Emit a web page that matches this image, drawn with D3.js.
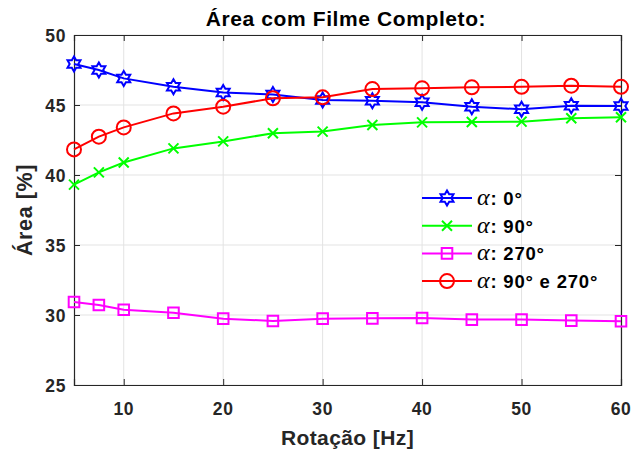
<!DOCTYPE html>
<html>
<head>
<meta charset="utf-8">
<script src="https://cdn.jsdelivr.net/npm/d3@7"></script>
<style>
	body { margin: 0; background: #fff; }
	text { font-family: Arial, "Liberation Sans", sans-serif; font-weight: bold; }
</style>
</head>
<body>
<div id="chart"></div>
<script>

//data
const rotacao = [5, 7.5, 10, 15, 20, 25, 30, 35, 40, 45, 50, 55, 60];
const alpha0 = [47.93, 47.5, 46.9, 46.3, 45.9, 45.75, 45.36, 45.31, 45.19, 44.88, 44.69, 44.95, 44.93];
const alpha90 = [39.31, 40.19, 40.89, 41.9, 42.4, 42.98, 43.1, 43.57, 43.76, 43.79, 43.81, 44.05, 44.12];
const alpha270 = [30.93, 30.71, 30.38, 30.16, 29.74, 29.57, 29.74, 29.76, 29.79, 29.67, 29.67, 29.6, 29.55];
const alpha90e270 = [41.83, 42.74, 43.4, 44.4, 44.88, 45.48, 45.55, 46.14, 46.19, 46.26, 46.3, 46.38, 46.3];
const legendLabels = [": 0°", ": 90°", ": 270°", ": 90° e 270°"];
const xTicks = [10, 20, 30, 40, 50, 60];
const yTicks = [25, 30, 35, 40, 45, 50];


function graph(){

	const width = 632;
	const height = 453;
	const margin = {left: 74, right: 11, top: 35, bottom: 68};

	let svg = d3.select("#chart")
		.append("svg")
		.attr("width", width)
		.attr("height", height);

	let x = d3.scaleLinear().domain([5, 60]).range([margin.left, width - margin.right]);
	let y = d3.scaleLinear().domain([25, 50]).range([height - margin.bottom, margin.top]);

	//grid
	svg.append("g").selectAll("line.gx")
		.data(xTicks)
		.enter().append("line")
		.attr("x1", (d)=>x(d)).attr("x2", (d)=>x(d))
		.attr("y1", y(25)).attr("y2", y(50))
		.attr("stroke", "#e3e3e3").attr("stroke-width", 1);

	svg.append("g").selectAll("line.gy")
		.data(yTicks)
		.enter().append("line")
		.attr("x1", x(5)).attr("x2", x(60))
		.attr("y1", (d)=>y(d)).attr("y2", (d)=>y(d))
		.attr("stroke", "#e3e3e3").attr("stroke-width", 1);

	//axes (box with inward ticks)
	const axisColor = "#262626";
	let xAxisB = d3.axisBottom(x).tickValues(xTicks).tickSize(-6).tickFormat("");
	let xAxisT = d3.axisTop(x).tickValues(xTicks).tickSize(-6).tickFormat("");
	let yAxisL = d3.axisLeft(y).tickValues(yTicks).tickSize(-6).tickFormat("");
	let yAxisR = d3.axisRight(y).tickValues(yTicks).tickSize(-6).tickFormat("");

	[[xAxisB, "translate(0," + y(25) + ")"], [xAxisT, "translate(0," + y(50) + ")"],
		[yAxisL, "translate(" + x(5) + ",0)"], [yAxisR, "translate(" + x(60) + ",0)"]].forEach((a)=>{
		let g = svg.append("g").attr("transform", a[1]).call(a[0]);
		g.selectAll("path").attr("stroke", axisColor).attr("stroke-width", 1.2);
		g.selectAll("line").attr("stroke", axisColor).attr("stroke-width", 1);
	});

	//tick labels
	svg.append("g").selectAll("text")
		.data(xTicks)
		.enter().append("text")
		.attr("x", (d)=>x(d))
		.attr("y", y(25) + 30)
		.attr("text-anchor", "middle")
		.attr("font-size", 17.5)
		.attr("letter-spacing", 0.6)
		.attr("fill", axisColor)
		.text((d)=>d);

	svg.append("g").selectAll("text")
		.data(yTicks)
		.enter().append("text")
		.attr("x", x(5) - 8)
		.attr("y", (d)=>y(d) + 6.5)
		.attr("text-anchor", "end")
		.attr("font-size", 17.5)
		.attr("letter-spacing", 0.6)
		.attr("fill", axisColor)
		.text((d)=>d);

	//labels
	svg.append("text")
		.attr("x", 346)
		.attr("y", 26)
		.attr("text-anchor", "middle")
		.attr("font-size", 21)
		.attr("letter-spacing", 0.6)
		.attr("fill", "#000")
		.text("Área com Filme Completo:");

	svg.append("text")
		.attr("x", (x(5) + x(60))/2)
		.attr("y", 445)
		.attr("text-anchor", "middle")
		.attr("font-size", 21)
		.attr("letter-spacing", 0.4)
		.attr("fill", axisColor)
		.text("Rotação [Hz]");

	svg.append("text")
		.attr("transform", "translate(32," + (y(37.5)) + ") rotate(-90)")
		.attr("text-anchor", "middle")
		.attr("font-size", 21.5)
		.attr("letter-spacing", 0.6)
		.attr("fill", axisColor)
		.text("Área [%]");

	//markers
	function hexagram(r){
		let ri = r/Math.sqrt(3);
		let pts = [];
		for(let i=0;i<12;i++){
			let a = -Math.PI/2 + i*Math.PI/6;
			let rr = (i%2==0) ? r : ri;
			pts.push([rr*Math.cos(a), rr*Math.sin(a)]);
		}
		return "M" + pts.map((p)=>p.join(",")).join("L") + "Z";
	}
	const markerPath = {
		hex: hexagram(7.5),
		x: "M-5,-5L5,5M-5,5L5,-5",
		square: "M-5.3,-5.3H5.3V5.3H-5.3Z",
		circle: "M7,0A7,7 0 1,1 -7,0A7,7 0 1,1 7,0Z"
	};

	const series = [
		{values: alpha0, color: "#0000ff", marker: "hex"},
		{values: alpha90, color: "#00ff00", marker: "x"},
		{values: alpha270, color: "#ff00ff", marker: "square"},
		{values: alpha90e270, color: "#ff0000", marker: "circle"}
	];

	let line = d3.line()
		.x((d)=>x(d[0]))
		.y((d)=>y(d[1]));

	series.forEach((s)=>{
		let pts = rotacao.map((r, i)=>[r, s.values[i]]);
		svg.append("path")
			.datum(pts)
			.attr("d", line)
			.attr("fill", "none")
			.attr("stroke", s.color)
			.attr("stroke-width", 2);

		svg.append("g").selectAll("path")
			.data(pts)
			.enter().append("path")
			.attr("transform", (d)=>"translate(" + x(d[0]) + "," + y(d[1]) + ")")
			.attr("d", markerPath[s.marker])
			.attr("fill", "none")
			.attr("stroke", s.color)
			.attr("stroke-width", 2);
	});

	//legend
	let legend = svg.append("g");
	series.forEach((s, i)=>{
		let ly = 198 + i*27.7;
		legend.append("line")
			.attr("x1", 422).attr("x2", 472)
			.attr("y1", ly).attr("y2", ly)
			.attr("stroke", s.color).attr("stroke-width", 2);
		legend.append("path")
			.attr("transform", "translate(447," + ly + ")")
			.attr("d", markerPath[s.marker])
			.attr("fill", "none")
			.attr("stroke", s.color)
			.attr("stroke-width", 2);
		let t = legend.append("text")
			.attr("x", 477)
			.attr("y", ly + 7)
			.attr("font-size", 18.5)
			.attr("letter-spacing", 0.8)
			.attr("fill", "#000");
		t.append("tspan")
			.attr("font-family", "'Liberation Serif', 'DejaVu Serif', serif")
			.attr("font-style", "italic")
			.attr("font-weight", "normal")
			.attr("font-size", 24)
			.text("α");
		t.append("tspan").text(legendLabels[i]);
	});

}

graph();
</script>
</body>
</html>
